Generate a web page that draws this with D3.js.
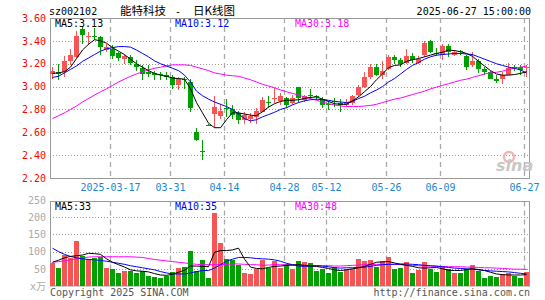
<!DOCTYPE html>
<html>
<head>
<meta charset="utf-8">
<script src="https://cdn.jsdelivr.net/npm/d3@7"></script>
<style>
body { margin: 0; background: #fff; }
text { font-family: "DejaVu Sans Mono", monospace; font-size: 10px; }
</style>
</head>
<body>
<script>
const width = 545,
    height = 300,
    left = 50,
    right = 530,
    priceTop = 18,
    priceBottom = 178,
    volTop = 201.5,
    volBottom = 286;

const upColor = '#f55555',
    downColor = '#00a000';

// trading days, 2025-03-03 .. 2025-06-27
const dates = [
    '03-03','03-04','03-05','03-06','03-07','03-10','03-11','03-12','03-13','03-14',
    '03-17','03-18','03-19','03-20','03-21','03-24','03-25','03-26','03-27','03-28','03-31',
    '04-01','04-02','04-03','04-07','04-08','04-09','04-10','04-11','04-14','04-15',
    '04-16','04-17','04-18','04-21','04-22','04-23','04-24','04-25','04-28','04-29','04-30',
    '05-06','05-07','05-08','05-09','05-12','05-13','05-14','05-15','05-16','05-19',
    '05-20','05-21','05-22','05-23','05-26','05-27','05-28','05-29','05-30',
    '06-03','06-04','06-05','06-06','06-09','06-10','06-11','06-12','06-13','06-16',
    '06-17','06-18','06-19','06-20','06-23','06-24','06-25','06-26','06-27'
];

const open = [
    3.11,3.13,3.13,3.22,3.26,3.50,3.43,3.44,3.43,3.32,
    3.33,3.29,3.24,3.26,3.20,3.16,3.13,3.12,3.11,3.10,3.08,
    3.01,3.07,3.04,2.60,2.44,2.665,2.76,2.74,2.815,2.80,
    2.77,2.71,2.715,2.735,2.78,2.865,2.895,2.875,2.90,2.855,3.00,
    2.88,2.93,2.915,2.89,2.85,2.87,2.855,2.835,2.855,2.925,
    3.00,3.08,3.175,3.10,3.155,3.26,3.23,3.21,3.27,
    3.21,3.275,3.40,3.295,3.275,3.355,3.28,3.31,3.27,3.19,
    3.22,3.155,3.125,3.07,3.065,3.105,3.17,3.175,3.16
];
const high = [
    3.17,3.20,3.27,3.33,3.49,3.53,3.48,3.51,3.44,3.37,
    3.36,3.30,3.28,3.28,3.23,3.19,3.19,3.14,3.13,3.13,3.10,
    3.08,3.08,3.07,2.64,2.53,2.67,2.92,2.85,2.89,2.84,
    2.79,2.78,2.765,2.81,2.91,2.92,2.99,2.94,2.91,2.925,3.00,
    2.93,2.98,2.93,2.91,2.875,2.90,2.89,2.89,2.925,3.015,
    3.13,3.195,3.195,3.22,3.275,3.28,3.25,3.33,3.29,
    3.27,3.40,3.41,3.335,3.37,3.37,3.32,3.32,3.28,3.30,
    3.245,3.175,3.135,3.10,3.13,3.21,3.19,3.19,3.19
];
const low = [
    3.07,3.06,3.08,3.19,3.25,3.37,3.36,3.41,3.28,3.30,
    3.24,3.22,3.20,3.19,3.14,3.06,3.08,3.06,3.06,3.06,2.98,
    2.97,2.98,2.78,2.52,2.36,2.655,2.64,2.72,2.735,2.72,
    2.67,2.67,2.68,2.67,2.775,2.81,2.855,2.84,2.81,2.84,2.855,
    2.865,2.89,2.88,2.81,2.795,2.825,2.775,2.825,2.84,2.91,
    2.985,3.065,3.095,3.065,3.145,3.195,3.175,3.20,3.21,
    3.195,3.26,3.29,3.27,3.23,3.26,3.27,3.28,3.145,3.17,
    3.115,3.105,3.065,3.035,3.02,3.10,3.135,3.105,3.08
];
const close = [
    3.14,3.11,3.22,3.28,3.44,3.45,3.44,3.43,3.35,3.35,
    3.27,3.25,3.27,3.21,3.17,3.11,3.11,3.10,3.10,3.08,3.01,
    3.07,3.06,2.81,2.53,2.43,2.66,2.82,2.79,2.81,2.75,
    2.71,2.75,2.745,2.785,2.88,2.86,2.90,2.92,2.84,2.90,2.90,
    2.92,2.925,2.91,2.84,2.845,2.865,2.835,2.865,2.92,3.00,
    3.085,3.175,3.105,3.135,3.26,3.23,3.20,3.27,3.23,
    3.245,3.38,3.305,3.29,3.355,3.305,3.305,3.305,3.175,3.22,
    3.155,3.125,3.07,3.05,3.105,3.165,3.165,3.145,3.175
];

// volume, 10k shares
const volume = [
    68,51,91,80,132,88,79,80,85,53,
    50,37,45,43,37,45,30,27,22,28,42,
    51,54,103,44,77,24,211,126,79,77,
    60,37,34,50,75,51,74,52,64,50,74,
    69,67,45,48,37,56,40,50,50,79,
    74,77,54,74,83,50,51,71,37,
    47,71,48,40,59,48,37,37,50,62,
    45,23,28,27,35,38,30,22,40
];

const ma5 = [
    3.115,3.12,3.13,3.17,3.245,3.32,3.37,3.41,3.40,3.38,
    3.34,3.31,3.28,3.24,3.20,3.17,3.14,3.115,3.10,3.09,3.075,
    3.07,3.065,2.98,2.86,2.77,2.68,2.64,2.64,2.71,2.77,
    2.77,2.76,2.75,2.745,2.78,2.82,2.85,2.87,2.88,2.88,2.885,
    2.895,2.905,2.91,2.89,2.87,2.85,2.845,2.845,2.875,2.91,
    2.955,3.00,3.06,3.11,3.165,3.185,3.19,3.22,3.235,
    3.245,3.26,3.275,3.29,3.30,3.32,3.315,3.305,3.29,3.265,
    3.22,3.18,3.14,3.11,3.10,3.10,3.105,3.115,3.13
];
const ma10 = [
    3.08,3.09,3.12,3.15,3.18,3.22,3.25,3.28,3.31,3.33,
    3.34,3.35,3.35,3.345,3.32,3.29,3.26,3.225,3.20,3.18,3.16,
    3.14,3.10,3.04,2.96,2.92,2.89,2.865,2.845,2.825,2.80,
    2.76,2.72,2.70,2.71,2.735,2.755,2.775,2.80,2.815,2.84,2.86,
    2.875,2.885,2.89,2.885,2.88,2.87,2.865,2.86,2.87,2.895,
    2.915,2.945,2.97,3.00,3.04,3.07,3.11,3.15,3.185,
    3.21,3.24,3.26,3.275,3.28,3.285,3.29,3.29,3.285,3.28,
    3.26,3.24,3.22,3.20,3.185,3.17,3.16,3.145,3.12
];
const ma30 = [
    2.72,2.745,2.77,2.80,2.83,2.865,2.895,2.925,2.955,2.98,
    3.01,3.04,3.065,3.09,3.11,3.13,3.145,3.16,3.17,3.18,3.19,
    3.19,3.19,3.185,3.17,3.155,3.14,3.12,3.11,3.10,3.095,
    3.09,3.075,3.06,3.04,3.02,3.005,2.99,2.97,2.955,2.94,2.925,
    2.91,2.895,2.88,2.865,2.85,2.84,2.83,2.825,2.825,2.825,
    2.83,2.835,2.845,2.86,2.875,2.89,2.90,2.915,2.93,
    2.945,2.96,2.98,2.995,3.01,3.025,3.04,3.055,3.065,3.08,
    3.095,3.11,3.12,3.125,3.135,3.15,3.16,3.17,3.18
];

const volMa5 = [
    69,75,82,86,88,90,95,94,92,79,
    69,62,55,47,44,43,41,36,32,31,34,
    40,46,58,58,57,56,98,103,103,105,
    110,78,55,51,50,54,57,58,60,61,62,
    60,58,57,54,51,47,45,47,50,53,
    57,63,69,70,71,67,63,60,57,
    53,52,53,54,50,46,45,45,48,50,
    48,45,40,35,33,32,32,32,33
];
const volMa10 = [
    110,100,92,86,82,79,77,76,74,72,
    69,66,63,59,56,53,50,47,42,38,35,
    35,35,38,42,45,45,52,62,72,78,
    83,83,82,80,79,78,76,72,66,62,58,
    57,58,59,58,56,53,52,53,53,54,
    55,57,60,62,63,63,64,64,63,
    62,60,59,58,56,54,52,51,50,49,
    47,45,44,43,42,41,39,37,35
];
const volMa30 = [
    69,71,73,76,79,82,84,85,85,85,
    85,85,85,85,84,83,80,77,75,73,71,
    69,67,65,63,62,62,62,62,63,64,
    64,63,62,62,60,61,62,62,62,61,61,
    60,60,59,59,59,58,58,59,60,61,
    62,62,63,63,63,63,62,61,60,
    59,58,58,57,57,56,56,56,55,55,
    54,53,53,52,51,50,49,49,48
];

const tickDates = ['03-17','03-31','04-14','04-28','05-12','05-26','06-09','06-27'];
const tickLabels = ['2025-03-17','03-31','04-14','04-28','05-12','05-26','06-09','06-27'];
const priceTicks = [2.2, 2.4, 2.6, 2.8, 3.0, 3.2, 3.4, 3.6];
const volTicks = [50, 100, 150, 200, 250];

const x = d3.scaleBand().domain(d3.range(dates.length)).range([left, right]);
const y = d3.scaleLinear().domain([2.2, 3.6]).range([priceBottom, priceTop]);
const yv = d3.scaleLinear().domain([0, 250]).range([volBottom, 200]);

const svg = d3.select('body').append('svg')
    .attr('width', width)
    .attr('height', height)
    ;

// header
svg.append('text').attr('x', 49).attr('y', 15).text('sz002102');
svg.append('text').attr('x', 120).attr('y', 15)
    .style('font-family', '"Noto Sans CJK SC"').style('font-size', '11.5px')
    .text('能特科技');
svg.append('text').attr('x', 175).attr('y', 15).text('-');
svg.append('text').attr('x', 193).attr('y', 15)
    .style('font-family', '"Noto Sans CJK SC"').style('font-size', '11.5px')
    .text('日K线图');
svg.append('text').attr('x', 531).attr('y', 15).attr('text-anchor', 'end')
    .text('2025-06-27 15:00:00');

// grid
const grid = svg.append('g');
grid.selectAll('line.h')
    .data(priceTicks.filter(d => d > 2.2 && d < 3.6))
    .enter().append('line')
    .attr('x1', left).attr('x2', right)
    .attr('y1', d => Math.round(y(d)) + 0.5).attr('y2', d => Math.round(y(d)) + 0.5)
    .attr('stroke', '#999').attr('stroke-dasharray', '1,2');
grid.selectAll('line.hv')
    .data(volTicks.filter(d => d < 250))
    .enter().append('line')
    .attr('x1', left).attr('x2', right)
    .attr('y1', d => Math.round(yv(d)) + 0.5).attr('y2', d => Math.round(yv(d)) + 0.5)
    .attr('stroke', '#999').attr('stroke-dasharray', '1,2');

tickDates.forEach(t => {
    const gx = x(dates.indexOf(t)) + 0.5;
    [[priceTop, priceBottom], [volTop, volBottom]].forEach(r => {
        grid.append('line')
            .attr('x1', gx).attr('x2', gx)
            .attr('y1', r[0]).attr('y2', r[1])
            .attr('stroke', '#aaa').attr('stroke-width', 1.3)
            .attr('stroke-dasharray', '5,4');
    });
});

// frames
svg.append('rect').attr('x', left + 0.5).attr('y', priceTop + 0.5)
    .attr('width', right - left - 1).attr('height', priceBottom - priceTop)
    .attr('fill', 'none').attr('stroke', '#999');
svg.append('rect').attr('x', left + 0.5).attr('y', volTop)
    .attr('width', right - left - 1).attr('height', volBottom - volTop)
    .attr('fill', 'none').attr('stroke', '#999');

// y axes
const yAxis = d3.axisLeft(y).tickValues(priceTicks).tickFormat(d3.format('.2f')).tickSize(0).tickPadding(0);
const ga = svg.append('g').attr('transform', 'translate(46,0)').call(yAxis);
ga.select('.domain').remove();
ga.selectAll('text').attr('fill', '#f00')
    .style('font-family', '"DejaVu Sans Mono", monospace').style('font-size', '10px');

const yvAxis = d3.axisLeft(yv).tickValues(volTicks).tickSize(0).tickPadding(0);
const gv = svg.append('g').attr('transform', 'translate(46,0)').call(yvAxis);
gv.select('.domain').remove();
gv.selectAll('text').attr('fill', '#aaa')
    .style('font-family', '"DejaVu Sans Mono", monospace').style('font-size', '10px');
svg.append('text').attr('x', 46).attr('y', yv(0) + 3.5).attr('text-anchor', 'end')
    .attr('fill', '#aaa').style('font-family', '"DejaVu Sans Mono","Noto Sans CJK SC"')
    .text('x万');

// x labels
svg.append('g').selectAll('text')
    .data(tickDates)
    .enter().append('text')
    .attr('x', d => x(dates.indexOf(d)) + 0.5)
    .attr('y', 190.5)
    .attr('text-anchor', 'middle')
    .attr('fill', '#1a86d6')
    .text((d, i) => tickLabels[i]);

// sina mark
svg.append('circle').attr('cx', 509).attr('cy', 157).attr('r', 5)
    .attr('fill', 'none').attr('stroke', '#f4b4b4').attr('stroke-width', 2.5);
svg.append('text').attr('x', 496).attr('y', 171)
    .style('font-family', '"DejaVu Sans"').style('font-size', '16px')
    .style('font-style', 'italic').style('font-weight', 'bold')
    .attr('fill', '#c8c8c8').text('sina');

// candles
const colorOf = i => close[i] >= open[i] ? upColor : downColor;
const candles = svg.append('g').attr('shape-rendering', 'crispEdges');
candles.selectAll('rect.wick')
    .data(dates)
    .enter().append('rect')
    .attr('x', (d, i) => x(i) + 2)
    .attr('y', (d, i) => y(high[i]))
    .attr('width', 1)
    .attr('height', (d, i) => Math.max(1, y(low[i]) - y(high[i])))
    .attr('fill', (d, i) => colorOf(i));
candles.selectAll('rect.body')
    .data(dates)
    .enter().append('rect')
    .attr('x', (d, i) => x(i))
    .attr('y', (d, i) => y(Math.max(open[i], close[i])))
    .attr('width', 5)
    .attr('height', (d, i) => Math.max(1, Math.abs(y(open[i]) - y(close[i]))))
    .attr('fill', (d, i) => colorOf(i));

// volume bars
svg.append('g').attr('shape-rendering', 'crispEdges')
    .selectAll('rect')
    .data(volume)
    .enter().append('rect')
    .attr('x', (d, i) => x(i))
    .attr('y', d => yv(d))
    .attr('width', 5)
    .attr('height', d => volBottom - yv(d))
    .attr('fill', (d, i) => colorOf(i));

// moving averages
function drawLine(values, scale, color) {
    const line = d3.line()
        .x((d, i) => x(i) + 2.5)
        .y(d => scale(d));
    svg.append('path')
        .attr('d', line(values))
        .attr('fill', 'none')
        .attr('stroke', color)
        .attr('stroke-width', 1);
}
drawLine(ma30, y, '#f0f');
drawLine(ma10, y, '#00f');
drawLine(ma5, y, '#000');
drawLine(volMa30, yv, '#f0f');
drawLine(volMa10, yv, '#00f');
drawLine(volMa5, yv, '#000');

// legends
const legend = [
    ['MA5:' + ma5[ma5.length - 1].toFixed(2), '#000', 55],
    ['MA10:' + ma10[ma10.length - 1].toFixed(2), '#00f', 175],
    ['MA30:' + ma30[ma30.length - 1].toFixed(2), '#f0f', 295]
];
legend.forEach(l => {
    svg.append('text').attr('x', l[2]).attr('y', 27).attr('fill', l[1]).text(l[0]);
});
const volLegend = [
    ['MA5:' + volMa5[volMa5.length - 1], '#000', 55],
    ['MA10:' + volMa10[volMa10.length - 1], '#00f', 175],
    ['MA30:' + volMa30[volMa30.length - 1], '#f0f', 295]
];
volLegend.forEach(l => {
    svg.append('text').attr('x', l[2]).attr('y', 210).attr('fill', l[1]).text(l[0]);
});

// footer
svg.append('text').attr('x', 50).attr('y', 296).attr('fill', '#555').text('Copyright 2025 SINA.COM');
svg.append('text').attr('x', 530).attr('y', 296).attr('text-anchor', 'end')
    .attr('fill', '#555').text('http://finance.sina.com.cn');
</script>
</body>
</html>
